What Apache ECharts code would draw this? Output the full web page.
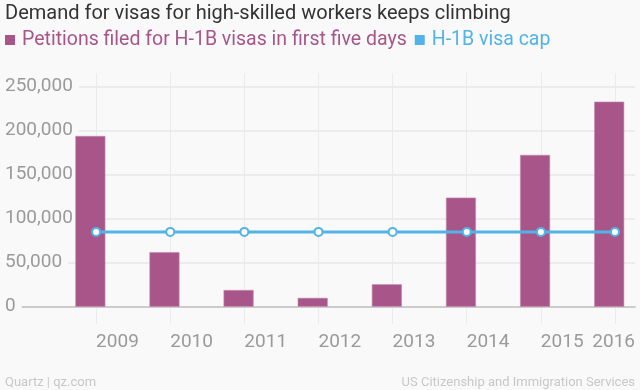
<!DOCTYPE html>
<html><head><meta charset="utf-8">
<script src="https://cdn.jsdelivr.net/npm/echarts@6/dist/echarts.min.js"></script>
<style>html,body{margin:0;padding:0;background:#f9f9f9}#c{width:640px;height:390px}</style>
</head><body><div id="c"></div>
<script>
const years = [2009, 2010, 2011, 2012, 2013, 2014, 2015, 2016];
const petitions = [194000, 62000, 19000, 10000, 25500, 124000, 172500, 233000];
const visaCap = [85000, 85000, 85000, 85000, 85000, 85000, 85000, 85000];
const yTicks = [0, 50000, 100000, 150000, 200000, 250000];
const seriesNames = ['Petitions filed for H-1B visas in first five days', 'H-1B visa cap'];

const purple = '#a8568a', blue = '#52b3e6';
const xMin = years[0] - 1, xMax = years[years.length - 1] + 0.27, barShift = 0.078;
const font = 'Roboto, "Noto Sans", sans-serif';
const fmt = v => v.toLocaleString('en-US');

const chart = echarts.init(document.getElementById('c'));
chart.setOption({
  backgroundColor: '#f9f9f9',
  animation: false,
  title: [
    {text: 'Demand for visas for high-skilled workers keeps climbing', left: 5, top: 4, padding: 0,
     textStyle: {fontFamily: font, fontSize: 20, fontWeight: 'normal', color: '#333'}},
    {text: 'Quartz | qz.com', left: 5, bottom: 1, padding: 0,
     textStyle: {fontFamily: font, fontSize: 13, fontWeight: 'normal', color: '#c8c8c8'}},
    {text: 'US Citizenship and Immigration Services', right: 5, bottom: 1, padding: 0,
     textStyle: {fontFamily: font, fontSize: 13, fontWeight: 'normal', color: '#c8c8c8'}}
  ],
  legend: {
    left: 5, top: 30, padding: 0, icon: 'rect', itemWidth: 10, itemHeight: 10, itemGap: 8,
    textStyle: {fontFamily: font, fontSize: 19.5, padding: [0, 0, 0, 2]},
    data: [
      {name: seriesNames[0], textStyle: {color: purple}, itemStyle: {color: purple, borderWidth: 0}},
      {name: seriesNames[1], textStyle: {color: blue}, itemStyle: {color: blue, borderWidth: 0}}
    ]
  },
  grid: [
    {left: 22, right: 5, top: 86.7, bottom: 83.3},
    {left: 22, right: 5, top: 73, bottom: 66}
  ],
  xAxis: [
    {type: 'value', gridIndex: 0, min: xMin, max: xMax, interval: 1,
     axisLine: {show: true, lineStyle: {color: '#cccccc', width: 2}},
     axisTick: {show: false}, axisLabel: {show: false}, splitLine: {show: false}},
    {type: 'value', gridIndex: 0, min: xMin + barShift, max: xMax + barShift, position: 'top',
     axisLine: {show: false}, axisTick: {show: false}, axisLabel: {show: false}, splitLine: {show: false}},
    {type: 'value', gridIndex: 1, min: xMin, max: xMax, interval: 1,
     axisLine: {show: false}, axisTick: {show: false},
     splitLine: {show: true, showMinLine: false, showMaxLine: false, lineStyle: {color: '#ebebeb', width: 1}},
     axisLabel: {
       show: true, align: 'left', alignMaxLabel: 'right', margin: 9,
       fontFamily: font, fontSize: 19, color: '#9a9a9a',
       showMinLabel: false, showMaxLabel: true,
       formatter: v => {
         const last = years[years.length - 1];
         if (v > last) return String(last);
         if (v === last || v < years[0]) return '';
         return String(v);
       }
     }}
  ],
  yAxis: [
    {type: 'value', gridIndex: 0, min: yTicks[0], max: yTicks[yTicks.length - 1], interval: yTicks[1] - yTicks[0],
     axisLine: {show: false}, axisTick: {show: false},
     splitLine: {lineStyle: {color: '#ececec', width: 2}},
     axisLabel: {align: 'left', margin: 17, fontFamily: font, fontSize: 19, color: '#9a9a9a',
       formatter: fmt, backgroundColor: '#f9f9f9', padding: [0, 6, 0, 0]}},
    {type: 'value', gridIndex: 1, show: false}
  ],
  series: [
    {name: seriesNames[0], type: 'bar', xAxisIndex: 1, yAxisIndex: 0, barWidth: 30, clip: false,
     itemStyle: {color: purple, borderColor: '#c48aad', borderWidth: 0.6},
     data: years.map((y, i) => [y, petitions[i]])},
    {name: seriesNames[1], type: 'line', xAxisIndex: 0, yAxisIndex: 0, clip: false,
     symbol: 'circle', symbolSize: 8, showAllSymbol: true,
     lineStyle: {color: blue, width: 3},
     itemStyle: {color: '#ffffff', borderColor: blue, borderWidth: 2},
     data: years.map((y, i) => [y, visaCap[i]]), z: 3}
  ]
});
</script></body></html>
